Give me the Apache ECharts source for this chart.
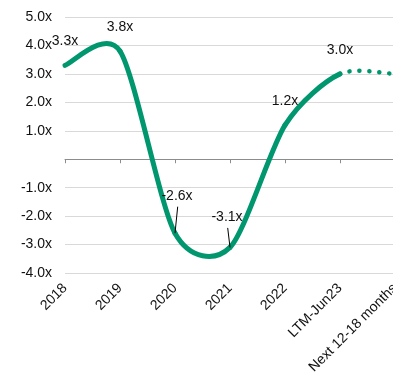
<!DOCTYPE html>
<html>
<head>
<meta charset="utf-8">
<script src="https://cdn.jsdelivr.net/npm/echarts@6/dist/echarts.min.js"></script>
<style>
  html, body { margin: 0; padding: 0; background: #fff; }
  #chart { width: 393px; height: 377px; }
</style>
</head>
<body>
<div id="chart"></div>
<script>
// Net leverage by period
const categories = ['2018', '2019', '2020', '2021', '2022', 'LTM-Jun23', 'Next 12-18 months'];
const leverage = [3.3, 3.8, -2.6, -3.1, 1.2, 3.0, 3.0];
// Segments starting at this index are projections (dotted, unlabelled)
const forecastStart = 5;
// Value axis ticks
const yMin = -4;
const yMax = 5;
const yStep = 1;

const GREEN = '#00966E';
const TEXT = '#111';
const FONT = '"Liberation Sans", Arial, sans-serif';
const TENSION = 0.135;

// Label placement relative to its point (pixels); leader line when pushed away
const labelShift = { 2: [2, -37], 3: [-3, -30] };
const defaultShift = [0, -24];

const chart = echarts.init(document.getElementById('chart'), null, { renderer: 'canvas' });

function fmt(v) {
  return v.toFixed(1) + 'x';
}

function renderItem(params, api) {
  const i = params.dataIndex;
  const n = leverage.length;
  const pt = k => api.coord([k, leverage[k]]);
  const children = [];

  if (i < n - 1) {
    const p0 = pt(Math.max(i - 1, 0));
    const p1 = pt(i);
    const p2 = pt(i + 1);
    const p3 = pt(Math.min(i + 2, n - 1));
    const c1 = [p1[0] + TENSION * (p2[0] - p0[0]), p1[1] + TENSION * (p2[1] - p0[1])];
    const c2 = [p2[0] - TENSION * (p3[0] - p1[0]), p2[1] - TENSION * (p3[1] - p1[1])];
    const dotted = i >= forecastStart;
    children.push({
      type: 'bezierCurve',
      shape: {
        x1: p1[0], y1: p1[1], x2: p2[0], y2: p2[1],
        cpx1: c1[0], cpy1: c1[1], cpx2: c2[0], cpy2: c2[1]
      },
      style: {
        stroke: GREEN,
        fill: null,
        lineWidth: dotted ? 4.5 : 5,
        lineCap: 'round',
        lineDash: dotted ? [0.1, 9.8] : null
      },
      z2: 1
    });
  }

  if (i <= forecastStart) {
    const p = pt(i);
    const s = labelShift[i] || defaultShift;
    const cx = p[0] + s[0];
    const cy = p[1] + s[1];
    if (labelShift[i]) {
      children.push({
        type: 'line',
        shape: { x1: cx + 0.7, y1: cy + 10.5, x2: p[0], y2: p[1] },
        style: { stroke: '#000', lineWidth: 1 },
        z2: 5
      });
    }
    children.push({
      type: 'text',
      x: cx,
      y: cy,
      style: {
        text: fmt(leverage[i]),
        fill: TEXT,
        font: '14px ' + FONT,
        align: 'center',
        verticalAlign: 'middle'
      },
      z2: 10
    });
  }

  return { type: 'group', children: children };
}

chart.setOption({
  animation: false,
  backgroundColor: '#fff',
  grid: { left: 65, right: -2, top: 17, bottom: 104, outerBoundsMode: 'none' },
  xAxis: [
    {
      type: 'category',
      data: categories,
      boundaryGap: false,
      position: 'bottom',
      axisLine: { show: false, onZero: false },
      axisTick: { show: false },
      splitLine: { show: false },
      axisLabel: {
        interval: 0,
        rotate: 45,
        margin: 13,
        color: TEXT,
        fontSize: 14,
        fontFamily: FONT
      }
    },
    {
      type: 'category',
      data: categories,
      boundaryGap: false,
      position: 'top',
      axisLine: { show: true, onZero: true, lineStyle: { color: '#8c8c8c', width: 1 } },
      axisTick: { show: true, inside: true, length: 4, interval: 0, lineStyle: { color: '#8c8c8c' } },
      axisLabel: { show: false },
      splitLine: { show: false }
    }
  ],
  yAxis: {
    type: 'value',
    min: yMin,
    max: yMax,
    interval: yStep,
    axisLine: { show: false },
    axisTick: { show: false },
    splitLine: { show: true, lineStyle: { color: '#d9d9d9', width: 1 } },
    axisLabel: {
      margin: 13,
      color: TEXT,
      fontSize: 14,
      fontFamily: FONT,
      formatter: v => (v === 0 ? '' : fmt(v))
    }
  },
  series: [
    {
      type: 'custom',
      name: 'Net leverage',
      silent: true,
      clip: false,
      encode: { x: 0, y: 1 },
      data: leverage.map((v, i) => [i, v]),
      renderItem: renderItem
    }
  ]
});
</script>
</body>
</html>
